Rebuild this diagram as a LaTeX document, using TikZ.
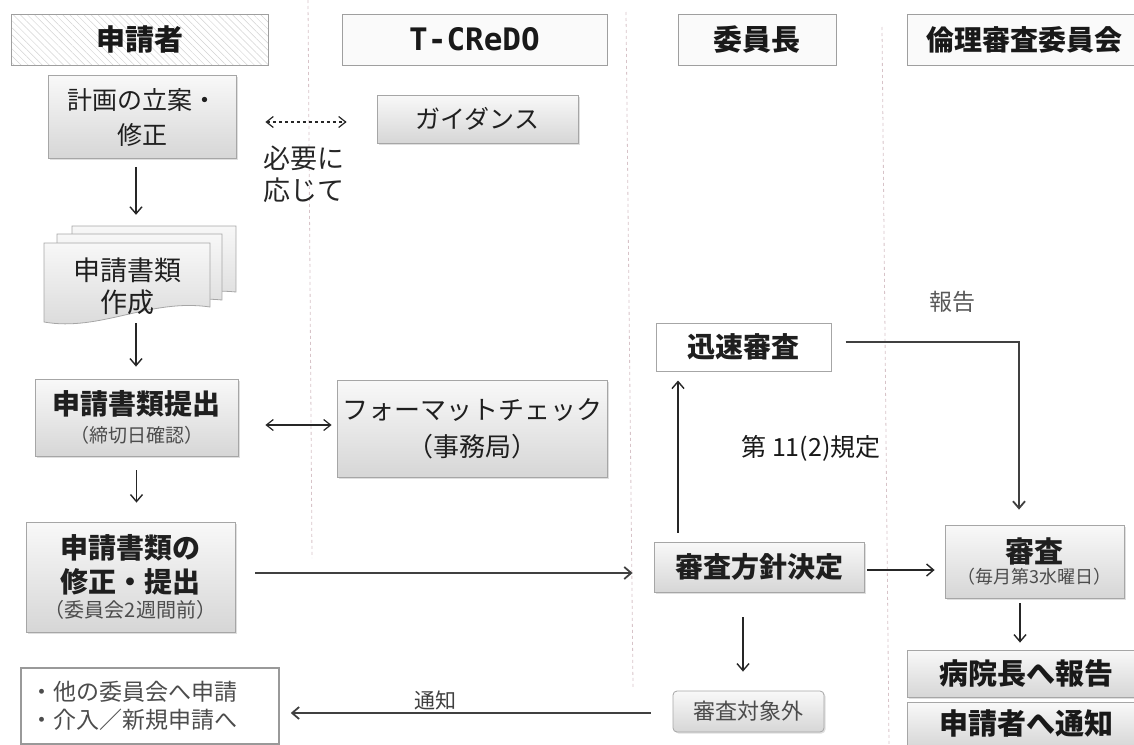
\documentclass[tikz,border=0pt]{standalone}
\usepackage{fontspec}
\setmainfont{Noto Sans CJK JP}
\newfontfamily\monofnt{DejaVu Sans Mono}
\usetikzlibrary{arrows.meta,patterns.meta,shadows}
\newcommand\fsz[2]{\fontsize{#1}{#2}\selectfont}
\begin{document}
\begin{tikzpicture}[x=1pt,y=-1pt,
  hdr/.style={draw=gray!75, line width=1pt, fill=gray!4, minimum height=51pt, inner sep=0pt,
    font=\bfseries\fsz{29}{32}, text=black!90},
  hdrtxt/.style={inner sep=0pt, font=\bfseries\fsz{28}{32}, text=black!90},
  gbox/.style={draw=gray!70, line width=0.8pt, top color=gray!5, bottom color=gray!32, inner sep=0pt,
    align=center, text=black!88, drop shadow={opacity=0.25,shadow xshift=1.5pt,shadow yshift=-1.5pt}},
  sheet/.style={draw=gray!70, line width=0.8pt, top color=gray!6, bottom color=gray!30},
  plainbox/.style={draw=gray!70, line width=1pt, fill=white, inner sep=0pt},
  arr/.style={-{Straight Barb[length=7pt,width=12pt]}, line width=1.4pt, draw=black!85},
  darr/.style={{Straight Barb[length=7pt,width=11pt]}-{Straight Barb[length=7pt,width=11pt]}, line width=1.2pt, draw=black!85},
  thickarr/.style={-{Straight Barb[length=7pt,width=12pt]}, line width=1.8pt, draw=black!75},
  sep/.style={draw={rgb,255:red,215;green,195;blue,200}, dash pattern=on 3pt off 3pt, line width=0.8pt},
  lbl/.style={inner sep=0pt}
]
\useasboundingbox (0,0) rectangle (1134,744);

% separators
\draw[sep] (308,0) -- (312,558);
\draw[sep] (626,12) -- (633,688);
\draw[sep] (882,27) -- (889,744);

% headers
\node[hdr, minimum width=257pt, pattern={Lines[angle=-45,distance=5pt,line width=0.5pt]}, pattern color=gray!35] (h1) at (139.5,39.5) {申請者};
\node[hdr, minimum width=265pt] (h2) at (474.5,39.5) {\monofnt\bfseries\fsz{31}{36}T-CReDO};
\node[hdr, minimum width=158pt] (h3) at (757,39.5) {委員長};
\node[hdr, minimum width=240pt] (h4) at (1027,39.5) {};
\node[hdrtxt] (h4t) at (1024,39.5) {倫理審査委員会};

% left column
\node[gbox, minimum width=188pt, minimum height=83pt, font=\fsz{25}{35}] (plan) at (142,117) {計画の立案・\\修正};

\draw[sheet] (72,226) -- (236,226) -- (236,292) .. controls (180,286) and (130,316) .. (72,306) -- cycle;
\draw[sheet] (57,234) -- (222,234) -- (222,300) .. controls (166,294) and (116,324) .. (57,314) -- cycle;
\draw[sheet] (44,243) -- (210,243) -- (210,307) .. controls (150,298) and (100,332) .. (44,322) -- cycle;
\node[minimum width=192pt, minimum height=97pt, inner sep=0pt] (stack) at (140,274.5) {};
\node[lbl, align=center, font=\fsz{27}{32}, text=black!88] (doc) at (127,286) {申請書類\\作成};

\node[gbox, minimum width=203pt, minimum height=77pt] (submit) at (136.5,417.5)
  {\bfseries\fsz{28}{34}申請書類提出\\[8pt]\mdseries\fsz{19}{30}\color{black!70}（締切日確認）};

\node[gbox, minimum width=209pt, minimum height=110pt] (revise) at (130.5,577)
  {\bfseries\fsz{28}{36}申請書類の\\[6pt]\bfseries\fsz{28}{30}修正・提出\\[5pt]\mdseries\fsz{20}{30}\color{black!70}（委員会2週間前）};

\node[plainbox, draw=gray!80, line width=1.5pt, text width=240pt, inner xsep=9pt, minimum height=76pt,
  align=left, font=\fsz{23}{28}, text=black!70] (other) at (150,706) {・他の委員会へ申請\\・介入／新規申請へ};

% T-CReDO column
\node[gbox, minimum width=201pt, minimum height=48pt, font=\fsz{25}{30}] (guide) at (477.5,119) {ガイダンス};
\node[lbl, align=left, anchor=west, font=\fsz{27}{32}, text=black!85] (need) at (263,174) {必要に\\応じて};
\node[gbox, minimum width=270pt, minimum height=97pt, font=\fsz{26}{37}] (fmt) at (472,428.5) {フォーマットチェック\\（事務局）};

% chair column
\node[plainbox, minimum width=175pt, minimum height=48pt, font=\bfseries\fsz{28}{30}, text=black!88] (fast) at (743.5,347) {迅速審査};
\node[gbox, minimum width=210pt, minimum height=50pt, font=\bfseries\fsz{28}{30}] (policy) at (759,567) {審査方針決定};
\node[gbox, rounded corners=4pt, minimum width=151pt, minimum height=41pt, font=\fsz{22}{26}, text=black!70] (out) at (748.5,711.5) {審査対象外};

% committee column
\node[gbox, minimum width=179pt, minimum height=73pt] (review) at (1034.5,561.5)
  {\bfseries\fsz{29}{30}審査\\[2pt]\mdseries\fsz{18}{28}\color{black!70}（毎月第3水曜日）};
\node[gbox, minimum width=240pt, minimum height=47pt] (hosp) at (1027,673.5) {};
\node[hdrtxt, font=\bfseries\fsz{29}{32}] (hospt) at (1026,673) {病院長へ報告};
\node[gbox, minimum width=240pt, minimum height=46pt] (notify) at (1027,725) {};
\node[hdrtxt, font=\bfseries\fsz{29}{32}] (notifyt) at (1026,723) {申請者へ通知};

% labels
\node[lbl, font=\fsz{23}{26}, text=black!65] (report) at (952,302) {報告};
\node[lbl, font=\fsz{25}{28}, text=black!90] (rule) at (811,448) {第 11(2)規定};
\node[lbl, font=\fsz{21}{24}, text=black!75] (tsuchi) at (435,700) {通知};

% connectors
\draw[arr, shorten <=8pt, shorten >=11pt] ([xshift=-6pt]plan.south) -- ([xshift=-4pt]stack.north);
\draw[arr, shorten >=12pt] ([xshift=-4pt]stack.south) -- ([xshift=-4pt]stack.south |- submit.north);
\draw[arr, shorten <=14pt, shorten >=19pt] (submit.south) -- (submit.south |- revise.north);
\draw[darr, dashed, shorten <=29pt, shorten >=30pt] ([yshift=-5pt]plan.east) -- ([yshift=-5pt]plan.east -| guide.west);
\draw[darr, shorten <=27pt, shorten >=5pt] ([yshift=-7.5pt]submit.east) -- ([yshift=-7.5pt]submit.east -| fmt.west);
\draw[thickarr, shorten <=20pt, shorten >=21pt] ([yshift=4pt]revise.east) -- ([yshift=4pt]revise.east -| policy.west);
\draw[arr, shorten <=3pt, shorten >=10pt] ([yshift=-3pt]policy.east) -- ([yshift=-3pt]policy.east -| review.west);
\draw[arr, shorten <=9pt, shorten >=9pt] ([xshift=-81pt]policy.north) -- ([xshift=-81pt]policy.north |- fast.south);
\draw[thickarr, shorten >=15pt] ([xshift=14pt,yshift=5pt]fast.east) -| ([xshift=-15.5pt]review.north);
\draw[arr, shorten <=5pt, shorten >=7pt] ([xshift=-14.5pt]review.south) -- ([xshift=-14.5pt]review.south |- hosp.north);
\draw[arr, shorten <=25pt, shorten >=19pt] ([xshift=-5.5pt]out.north |- policy.south) -- ([xshift=-5.5pt]out.north);
\draw[thickarr, shorten <=22pt, shorten >=11pt] ([yshift=-1.5pt]out.west) -- ([yshift=-1.5pt]out.west -| other.east);
\end{tikzpicture}
\end{document}
